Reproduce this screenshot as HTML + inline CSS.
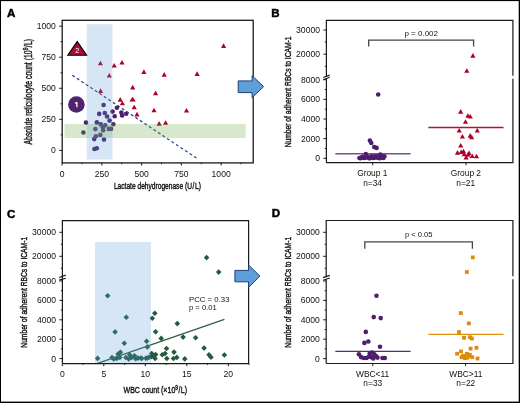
<!DOCTYPE html><html><head><meta charset="utf-8"><style>html,body{margin:0;padding:0;background:#fff}svg{display:block;will-change:transform}</style></head><body>
<svg width="520" height="403" viewBox="0 0 520 403" font-family='"Liberation Sans", sans-serif'>
<rect x="0" y="0" width="520" height="403" fill="#fff"/>
<text x="6.90" y="17.10" font-size="11.6" text-anchor="start" fill="#000" font-weight="bold" stroke="#000" stroke-width="0.45">A</text>
<text x="271.20" y="17.10" font-size="11.6" text-anchor="start" fill="#000" font-weight="bold" stroke="#000" stroke-width="0.45">B</text>
<text x="7.10" y="217.60" font-size="11.6" text-anchor="start" fill="#000" font-weight="bold" stroke="#000" stroke-width="0.45">C</text>
<text x="271.70" y="217.40" font-size="11.6" text-anchor="start" fill="#000" font-weight="bold" stroke="#000" stroke-width="0.45">D</text>
<circle cx="103.60" cy="105.00" r="2.3" fill="#4e1d6e"/>
<circle cx="116.90" cy="107.80" r="2.3" fill="#4e1d6e"/>
<circle cx="99.20" cy="113.90" r="2.3" fill="#4e1d6e"/>
<circle cx="104.80" cy="113.00" r="2.3" fill="#4e1d6e"/>
<circle cx="107.10" cy="116.50" r="2.3" fill="#4e1d6e"/>
<circle cx="112.60" cy="111.60" r="2.3" fill="#4e1d6e"/>
<circle cx="114.70" cy="116.20" r="2.3" fill="#4e1d6e"/>
<circle cx="121.30" cy="112.60" r="2.3" fill="#4e1d6e"/>
<circle cx="122.10" cy="115.50" r="2.3" fill="#4e1d6e"/>
<circle cx="126.20" cy="113.70" r="2.3" fill="#4e1d6e"/>
<circle cx="109.60" cy="120.60" r="2.3" fill="#4e1d6e"/>
<circle cx="113.30" cy="124.20" r="2.3" fill="#4e1d6e"/>
<circle cx="86.00" cy="122.60" r="2.3" fill="#4e1d6e"/>
<circle cx="96.80" cy="122.40" r="2.3" fill="#4e1d6e"/>
<circle cx="100.70" cy="124.40" r="2.3" fill="#4e1d6e"/>
<circle cx="105.20" cy="125.30" r="2.3" fill="#4e1d6e"/>
<circle cx="95.40" cy="129.10" r="2.3" fill="#4e1d6e"/>
<circle cx="102.90" cy="127.50" r="2.3" fill="#4e1d6e"/>
<circle cx="103.20" cy="130.20" r="2.3" fill="#4e1d6e"/>
<circle cx="108.80" cy="128.90" r="2.3" fill="#4e1d6e"/>
<circle cx="111.00" cy="128.90" r="2.3" fill="#4e1d6e"/>
<circle cx="83.40" cy="132.50" r="2.3" fill="#4e1d6e"/>
<circle cx="100.30" cy="134.90" r="2.3" fill="#4e1d6e"/>
<circle cx="95.90" cy="136.30" r="2.3" fill="#4e1d6e"/>
<circle cx="94.20" cy="139.10" r="2.3" fill="#4e1d6e"/>
<circle cx="104.00" cy="139.60" r="2.3" fill="#4e1d6e"/>
<circle cx="94.40" cy="149.00" r="2.3" fill="#4e1d6e"/>
<circle cx="96.80" cy="148.30" r="2.3" fill="#4e1d6e"/>
<polygon points="97.80,65.30 103.00,65.30 100.40,60.70" fill="#ad002b"/>
<polygon points="111.60,67.50 116.80,67.50 114.20,62.90" fill="#ad002b"/>
<polygon points="119.40,64.60 124.60,64.60 122.00,60.00" fill="#ad002b"/>
<polygon points="106.70,77.50 111.90,77.50 109.30,72.90" fill="#ad002b"/>
<polygon points="141.30,73.90 146.50,73.90 143.90,69.30" fill="#ad002b"/>
<polygon points="130.10,89.40 135.30,89.40 132.70,84.80" fill="#ad002b"/>
<polygon points="98.00,92.90 103.20,92.90 100.60,88.30" fill="#ad002b"/>
<polygon points="221.00,47.90 226.20,47.90 223.60,43.30" fill="#ad002b"/>
<polygon points="161.60,76.70 166.80,76.70 164.20,72.10" fill="#ad002b"/>
<polygon points="194.50,75.90 199.70,75.90 197.10,71.30" fill="#ad002b"/>
<polygon points="153.00,95.20 158.20,95.20 155.60,90.60" fill="#ad002b"/>
<polygon points="117.60,101.70 122.80,101.70 120.20,97.10" fill="#ad002b"/>
<polygon points="119.80,105.30 125.00,105.30 122.40,100.70" fill="#ad002b"/>
<polygon points="131.60,109.30 136.80,109.30 134.20,104.70" fill="#ad002b"/>
<polygon points="151.40,112.30 156.60,112.30 154.00,107.70" fill="#ad002b"/>
<polygon points="134.40,116.40 139.60,116.40 137.00,111.80" fill="#ad002b"/>
<polygon points="156.50,125.70 161.70,125.70 159.10,121.10" fill="#ad002b"/>
<polygon points="163.00,124.80 168.20,124.80 165.60,120.20" fill="#ad002b"/>
<polygon points="183.90,112.50 189.10,112.50 186.50,107.90" fill="#ad002b"/>
<polygon points="129.40,101.60 135.80,101.60 132.60,96.80" fill="#ad002b"/>
<line x1="72.3" y1="75.3" x2="196.4" y2="158.0" stroke="#274a8c" stroke-width="1.3" stroke-dasharray="2.9 2.52"/>
<rect x="64.5" y="124" width="181.2" height="14" fill="rgba(112,173,71,0.28)"/>
<rect x="86.8" y="24.2" width="25.7" height="135.3" fill="rgba(91,155,213,0.25)"/>
<polygon points="67.8,55.2 86.6,55.2 77.2,41.6" fill="#a80c35" stroke="#000" stroke-width="1.15" stroke-linejoin="miter"/>
<text x="77.20" y="53.10" font-size="7.2" text-anchor="middle" fill="#fff" >2</text>
<circle cx="76.4" cy="104.5" r="8.3" fill="#51236f"/>
<path d="M76.9,101.9 L76.9,107.2 M76.9,102.2 L75.2,103.6" stroke="#fff" stroke-width="1.25" fill="none"/>
<rect x="62.2" y="20.3" width="191.0" height="142.6" fill="none" stroke="#1a1a1a" stroke-width="1.3"/>
<line x1="59.20" y1="150.40" x2="62.20" y2="150.40" stroke="#1a1a1a" stroke-width="1.0" />
<text x="55.80" y="153.40" font-size="8.6" text-anchor="end" fill="#111" >0</text>
<line x1="60.60" y1="134.87" x2="62.20" y2="134.87" stroke="#1a1a1a" stroke-width="1.0" />
<line x1="59.20" y1="119.34" x2="62.20" y2="119.34" stroke="#1a1a1a" stroke-width="1.0" />
<text x="55.80" y="122.34" font-size="8.6" text-anchor="end" fill="#111" >250</text>
<line x1="60.60" y1="103.81" x2="62.20" y2="103.81" stroke="#1a1a1a" stroke-width="1.0" />
<line x1="59.20" y1="88.28" x2="62.20" y2="88.28" stroke="#1a1a1a" stroke-width="1.0" />
<text x="55.80" y="91.28" font-size="8.6" text-anchor="end" fill="#111" >500</text>
<line x1="60.60" y1="72.75" x2="62.20" y2="72.75" stroke="#1a1a1a" stroke-width="1.0" />
<line x1="59.20" y1="57.22" x2="62.20" y2="57.22" stroke="#1a1a1a" stroke-width="1.0" />
<text x="55.80" y="60.22" font-size="8.6" text-anchor="end" fill="#111" >750</text>
<line x1="60.60" y1="41.69" x2="62.20" y2="41.69" stroke="#1a1a1a" stroke-width="1.0" />
<line x1="59.20" y1="26.16" x2="62.20" y2="26.16" stroke="#1a1a1a" stroke-width="1.0" />
<text x="55.80" y="29.16" font-size="8.6" text-anchor="end" fill="#111" >1000</text>
<line x1="62.10" y1="162.90" x2="62.10" y2="165.50" stroke="#1a1a1a" stroke-width="1.0" />
<text x="62.10" y="176.50" font-size="8.6" text-anchor="middle" fill="#111" >0</text>
<line x1="81.98" y1="162.90" x2="81.98" y2="164.20" stroke="#1a1a1a" stroke-width="1.0" />
<line x1="101.86" y1="162.90" x2="101.86" y2="165.50" stroke="#1a1a1a" stroke-width="1.0" />
<text x="101.86" y="176.50" font-size="8.6" text-anchor="middle" fill="#111" >250</text>
<line x1="121.74" y1="162.90" x2="121.74" y2="164.20" stroke="#1a1a1a" stroke-width="1.0" />
<line x1="141.62" y1="162.90" x2="141.62" y2="165.50" stroke="#1a1a1a" stroke-width="1.0" />
<text x="141.62" y="176.50" font-size="8.6" text-anchor="middle" fill="#111" >500</text>
<line x1="161.51" y1="162.90" x2="161.51" y2="164.20" stroke="#1a1a1a" stroke-width="1.0" />
<line x1="181.39" y1="162.90" x2="181.39" y2="165.50" stroke="#1a1a1a" stroke-width="1.0" />
<text x="181.39" y="176.50" font-size="8.6" text-anchor="middle" fill="#111" >750</text>
<line x1="201.27" y1="162.90" x2="201.27" y2="164.20" stroke="#1a1a1a" stroke-width="1.0" />
<line x1="221.15" y1="162.90" x2="221.15" y2="165.50" stroke="#1a1a1a" stroke-width="1.0" />
<text x="221.15" y="176.50" font-size="8.6" text-anchor="middle" fill="#111" >1000</text>
<line x1="241.03" y1="162.90" x2="241.03" y2="164.20" stroke="#1a1a1a" stroke-width="1.0" />
<text x="157.40" y="188.90" font-size="9.8" text-anchor="middle" fill="#111" textLength="87" lengthAdjust="spacingAndGlyphs" stroke="#111" stroke-width="0.42">Lactate dehydrogenase (U<tspan dx="0.9">/</tspan><tspan dx="0.9">L)</tspan></text>
<text transform="translate(31.8,91.7) rotate(-90)" x="0" y="0" font-size="10.2" stroke="#111" stroke-width="0.42" text-anchor="middle" fill="#222" textLength="105.6" lengthAdjust="spacingAndGlyphs">Absolute reticulocyte count (10<tspan font-size="7.6" dy="-3.4">9</tspan><tspan dy="3.4" dx="0.4">/</tspan><tspan dx="0.4">L)</tspan></text>
<line x1="335.30" y1="153.80" x2="410.60" y2="153.80" stroke="#76528e" stroke-width="1.5" />
<line x1="428.30" y1="127.50" x2="503.50" y2="127.50" stroke="#b3103a" stroke-width="1.3" />
<circle cx="378.20" cy="94.50" r="2.3" fill="#4e1d6e"/>
<circle cx="369.90" cy="140.60" r="2.3" fill="#4e1d6e"/>
<circle cx="371.30" cy="143.00" r="2.3" fill="#4e1d6e"/>
<circle cx="374.20" cy="147.10" r="2.3" fill="#4e1d6e"/>
<circle cx="376.60" cy="147.90" r="2.3" fill="#4e1d6e"/>
<circle cx="365.80" cy="154.00" r="2.3" fill="#4e1d6e"/>
<circle cx="380.40" cy="154.50" r="2.3" fill="#4e1d6e"/>
<circle cx="371.30" cy="156.20" r="2.3" fill="#4e1d6e"/>
<circle cx="384.40" cy="156.30" r="2.3" fill="#4e1d6e"/>
<circle cx="376.00" cy="156.30" r="2.3" fill="#4e1d6e"/>
<circle cx="359.40" cy="158.00" r="2.3" fill="#4e1d6e"/>
<circle cx="361.80" cy="157.60" r="2.3" fill="#4e1d6e"/>
<circle cx="364.20" cy="158.00" r="2.3" fill="#4e1d6e"/>
<circle cx="366.60" cy="157.40" r="2.3" fill="#4e1d6e"/>
<circle cx="369.00" cy="158.10" r="2.3" fill="#4e1d6e"/>
<circle cx="371.40" cy="157.60" r="2.3" fill="#4e1d6e"/>
<circle cx="373.80" cy="158.00" r="2.3" fill="#4e1d6e"/>
<circle cx="376.20" cy="157.40" r="2.3" fill="#4e1d6e"/>
<circle cx="378.60" cy="158.00" r="2.3" fill="#4e1d6e"/>
<circle cx="381.00" cy="157.50" r="2.3" fill="#4e1d6e"/>
<circle cx="383.40" cy="158.00" r="2.3" fill="#4e1d6e"/>
<circle cx="362.50" cy="156.80" r="2.3" fill="#4e1d6e"/>
<circle cx="367.50" cy="156.60" r="2.3" fill="#4e1d6e"/>
<circle cx="374.00" cy="156.60" r="2.3" fill="#4e1d6e"/>
<circle cx="378.50" cy="156.20" r="2.3" fill="#4e1d6e"/>
<circle cx="382.50" cy="156.40" r="2.3" fill="#4e1d6e"/>
<circle cx="360.50" cy="158.20" r="2.3" fill="#4e1d6e"/>
<circle cx="370.00" cy="158.30" r="2.3" fill="#4e1d6e"/>
<circle cx="380.00" cy="158.30" r="2.3" fill="#4e1d6e"/>
<polygon points="470.30,57.70 475.50,57.70 472.90,53.10" fill="#ad002b"/>
<polygon points="464.20,72.80 469.40,72.80 466.80,68.20" fill="#ad002b"/>
<polygon points="458.10,113.70 463.30,113.70 460.70,109.10" fill="#ad002b"/>
<polygon points="465.30,117.80 470.50,117.80 467.90,113.20" fill="#ad002b"/>
<polygon points="467.70,118.50 472.90,118.50 470.30,113.90" fill="#ad002b"/>
<polygon points="462.90,123.80 468.10,123.80 465.50,119.20" fill="#ad002b"/>
<polygon points="456.60,132.50 461.80,132.50 459.20,127.90" fill="#ad002b"/>
<polygon points="474.70,132.50 479.90,132.50 477.30,127.90" fill="#ad002b"/>
<polygon points="459.80,138.50 465.00,138.50 462.40,133.90" fill="#ad002b"/>
<polygon points="467.60,137.70 472.80,137.70 470.20,133.10" fill="#ad002b"/>
<polygon points="469.10,139.30 474.30,139.30 471.70,134.70" fill="#ad002b"/>
<polygon points="458.10,147.60 463.30,147.60 460.70,143.00" fill="#ad002b"/>
<polygon points="454.90,154.70 460.10,154.70 457.50,150.10" fill="#ad002b"/>
<polygon points="458.60,154.00 463.80,154.00 461.20,149.40" fill="#ad002b"/>
<polygon points="460.90,153.30 466.10,153.30 463.50,148.70" fill="#ad002b"/>
<polygon points="461.60,156.30 466.80,156.30 464.20,151.70" fill="#ad002b"/>
<polygon points="463.50,159.50 468.70,159.50 466.10,154.90" fill="#ad002b"/>
<polygon points="466.40,155.00 471.60,155.00 469.00,150.40" fill="#ad002b"/>
<polygon points="465.30,156.80 470.50,156.80 467.90,152.20" fill="#ad002b"/>
<polygon points="469.60,158.10 474.80,158.10 472.20,153.50" fill="#ad002b"/>
<polygon points="473.90,158.30 479.10,158.30 476.50,153.70" fill="#ad002b"/>
<path d="M326.4,162.7 L512.9,162.7 L512.9,78.7 M512.9,75.7 L512.9,20.3 L326.4,20.3 L326.4,76.5 M326.4,78.6 L326.4,162.7" fill="none" stroke="#1a1a1a" stroke-width="1.2"/>
<line x1="323.20" y1="77.50" x2="329.70" y2="75.10" stroke="#1a1a1a" stroke-width="1.15" />
<line x1="323.20" y1="79.70" x2="329.70" y2="77.30" stroke="#1a1a1a" stroke-width="1.15" />
<line x1="323.40" y1="30.00" x2="326.40" y2="30.00" stroke="#1a1a1a" stroke-width="1.0" />
<text x="320.00" y="33.00" font-size="8.6" text-anchor="end" fill="#111" >30000</text>
<line x1="324.80" y1="42.10" x2="326.40" y2="42.10" stroke="#1a1a1a" stroke-width="1.0" />
<line x1="323.40" y1="54.20" x2="326.40" y2="54.20" stroke="#1a1a1a" stroke-width="1.0" />
<text x="320.00" y="57.20" font-size="8.6" text-anchor="end" fill="#111" >20000</text>
<line x1="324.80" y1="66.30" x2="326.40" y2="66.30" stroke="#1a1a1a" stroke-width="1.0" />
<line x1="323.40" y1="158.30" x2="326.40" y2="158.30" stroke="#1a1a1a" stroke-width="1.0" />
<text x="320.00" y="161.30" font-size="8.6" text-anchor="end" fill="#111" >0</text>
<line x1="324.80" y1="148.48" x2="326.40" y2="148.48" stroke="#1a1a1a" stroke-width="1.0" />
<line x1="323.40" y1="138.65" x2="326.40" y2="138.65" stroke="#1a1a1a" stroke-width="1.0" />
<text x="320.00" y="141.65" font-size="8.6" text-anchor="end" fill="#111" >2000</text>
<line x1="324.80" y1="128.83" x2="326.40" y2="128.83" stroke="#1a1a1a" stroke-width="1.0" />
<line x1="323.40" y1="119.00" x2="326.40" y2="119.00" stroke="#1a1a1a" stroke-width="1.0" />
<text x="320.00" y="122.00" font-size="8.6" text-anchor="end" fill="#111" >4000</text>
<line x1="324.80" y1="109.18" x2="326.40" y2="109.18" stroke="#1a1a1a" stroke-width="1.0" />
<line x1="323.40" y1="99.35" x2="326.40" y2="99.35" stroke="#1a1a1a" stroke-width="1.0" />
<text x="320.00" y="102.35" font-size="8.6" text-anchor="end" fill="#111" >6000</text>
<line x1="324.80" y1="89.53" x2="326.40" y2="89.53" stroke="#1a1a1a" stroke-width="1.0" />
<line x1="323.40" y1="79.70" x2="326.40" y2="79.70" stroke="#1a1a1a" stroke-width="1.0" />
<text x="320.00" y="82.70" font-size="8.6" text-anchor="end" fill="#111" >8000</text>
<line x1="372.70" y1="162.70" x2="372.70" y2="165.30" stroke="#1a1a1a" stroke-width="1.0" />
<line x1="466.00" y1="162.70" x2="466.00" y2="165.30" stroke="#1a1a1a" stroke-width="1.0" />
<text x="372.30" y="176.10" font-size="8.4" text-anchor="middle" fill="#111" >Group 1</text>
<text x="372.60" y="185.60" font-size="8.4" text-anchor="middle" fill="#111" >n=34</text>
<text x="465.90" y="176.10" font-size="8.4" text-anchor="middle" fill="#111" >Group 2</text>
<text x="465.70" y="185.60" font-size="8.4" text-anchor="middle" fill="#111" >n=21</text>
<path d="M368.7,46.6 L368.7,40.1 L473.6,40.1 L473.6,46.6" fill="none" stroke="#444" stroke-width="1.3"/>
<text x="421.20" y="35.50" font-size="8" text-anchor="middle" fill="#111" >p = 0.002</text>
<text transform="translate(290.8,91.9) rotate(-90)" x="0" y="0" font-size="9.9" stroke="#111" stroke-width="0.42" text-anchor="middle" fill="#222" textLength="110.8" lengthAdjust="spacingAndGlyphs">Number of adherent RBCs to ICAM-1</text>
<polygon points="206.60,254.80 209.40,257.60 206.60,260.40 203.80,257.60" fill="#245a40"/>
<polygon points="218.70,269.30 221.50,272.10 218.70,274.90 215.90,272.10" fill="#245a40"/>
<polygon points="107.70,293.00 110.50,295.80 107.70,298.60 104.90,295.80" fill="#245a40"/>
<polygon points="154.80,310.50 157.60,313.30 154.80,316.10 152.00,313.30" fill="#245a40"/>
<polygon points="152.30,315.40 155.10,318.20 152.30,321.00 149.50,318.20" fill="#245a40"/>
<polygon points="177.30,320.80 180.10,323.60 177.30,326.40 174.50,323.60" fill="#245a40"/>
<polygon points="126.30,314.40 129.10,317.20 126.30,320.00 123.50,317.20" fill="#245a40"/>
<polygon points="115.10,329.10 117.90,331.90 115.10,334.70 112.30,331.90" fill="#245a40"/>
<polygon points="155.60,328.90 158.40,331.70 155.60,334.50 152.80,331.70" fill="#245a40"/>
<polygon points="161.20,335.60 164.00,338.40 161.20,341.20 158.40,338.40" fill="#245a40"/>
<polygon points="183.10,334.30 185.90,337.10 183.10,339.90 180.30,337.10" fill="#245a40"/>
<polygon points="195.60,335.00 198.40,337.80 195.60,340.60 192.80,337.80" fill="#245a40"/>
<polygon points="124.30,340.40 127.10,343.20 124.30,346.00 121.50,343.20" fill="#245a40"/>
<polygon points="146.60,338.40 149.40,341.20 146.60,344.00 143.80,341.20" fill="#245a40"/>
<polygon points="147.40,344.10 150.20,346.90 147.40,349.70 144.60,346.90" fill="#245a40"/>
<polygon points="166.50,345.70 169.30,348.50 166.50,351.30 163.70,348.50" fill="#245a40"/>
<polygon points="174.00,349.30 176.80,352.10 174.00,354.90 171.20,352.10" fill="#245a40"/>
<polygon points="97.60,355.60 100.40,358.40 97.60,361.20 94.80,358.40" fill="#245a40"/>
<polygon points="112.00,354.70 114.80,357.50 112.00,360.30 109.20,357.50" fill="#245a40"/>
<polygon points="113.80,356.20 116.60,359.00 113.80,361.80 111.00,359.00" fill="#245a40"/>
<polygon points="116.70,355.60 119.50,358.40 116.70,361.20 113.90,358.40" fill="#245a40"/>
<polygon points="118.10,351.30 120.90,354.10 118.10,356.90 115.30,354.10" fill="#245a40"/>
<polygon points="120.40,349.50 123.20,352.30 120.40,355.10 117.60,352.30" fill="#245a40"/>
<polygon points="119.80,354.70 122.60,357.50 119.80,360.30 117.00,357.50" fill="#245a40"/>
<polygon points="125.90,354.70 128.70,357.50 125.90,360.30 123.10,357.50" fill="#245a40"/>
<polygon points="128.80,356.20 131.60,359.00 128.80,361.80 126.00,359.00" fill="#245a40"/>
<polygon points="129.60,351.90 132.40,354.70 129.60,357.50 126.80,354.70" fill="#245a40"/>
<polygon points="131.70,354.70 134.50,357.50 131.70,360.30 128.90,357.50" fill="#245a40"/>
<polygon points="134.50,353.00 137.30,355.80 134.50,358.60 131.70,355.80" fill="#245a40"/>
<polygon points="135.70,355.90 138.50,358.70 135.70,361.50 132.90,358.70" fill="#245a40"/>
<polygon points="138.10,355.30 140.90,358.10 138.10,360.90 135.30,358.10" fill="#245a40"/>
<polygon points="141.10,355.20 143.90,358.00 141.10,360.80 138.30,358.00" fill="#245a40"/>
<polygon points="145.90,355.40 148.70,358.20 145.90,361.00 143.10,358.20" fill="#245a40"/>
<polygon points="149.10,354.50 151.90,357.30 149.10,360.10 146.30,357.30" fill="#245a40"/>
<polygon points="151.70,350.70 154.50,353.50 151.70,356.30 148.90,353.50" fill="#245a40"/>
<polygon points="155.60,351.80 158.40,354.60 155.60,357.40 152.80,354.60" fill="#245a40"/>
<polygon points="153.40,353.50 156.20,356.30 153.40,359.10 150.60,356.30" fill="#245a40"/>
<polygon points="155.10,355.70 157.90,358.50 155.10,361.30 152.30,358.50" fill="#245a40"/>
<polygon points="162.30,352.00 165.10,354.80 162.30,357.60 159.50,354.80" fill="#245a40"/>
<polygon points="165.10,350.70 167.90,353.50 165.10,356.30 162.30,353.50" fill="#245a40"/>
<polygon points="166.80,355.70 169.60,358.50 166.80,361.30 164.00,358.50" fill="#245a40"/>
<polygon points="173.50,355.70 176.30,358.50 173.50,361.30 170.70,358.50" fill="#245a40"/>
<polygon points="176.80,354.60 179.60,357.40 176.80,360.20 174.00,357.40" fill="#245a40"/>
<polygon points="184.80,356.10 187.60,358.90 184.80,361.70 182.00,358.90" fill="#245a40"/>
<polygon points="204.10,345.30 206.90,348.10 204.10,350.90 201.30,348.10" fill="#245a40"/>
<polygon points="209.00,352.00 211.80,354.80 209.00,357.60 206.20,354.80" fill="#245a40"/>
<polygon points="211.00,354.40 213.80,357.20 211.00,360.00 208.20,357.20" fill="#245a40"/>
<polygon points="224.40,352.20 227.20,355.00 224.40,357.80 221.60,355.00" fill="#245a40"/>
<polygon points="141.70,355.70 144.50,358.50 141.70,361.30 138.90,358.50" fill="#245a40"/>
<polygon points="147.30,355.20 150.10,358.00 147.30,360.80 144.50,358.00" fill="#245a40"/>
<polygon points="151.20,354.00 154.00,356.80 151.20,359.60 148.40,356.80" fill="#245a40"/>
<line x1="97.50" y1="363.30" x2="224.40" y2="319.40" stroke="#2a6446" stroke-width="1.3" />
<rect x="95" y="241.9" width="56" height="121.2" fill="rgba(91,155,213,0.25)"/>
<path d="M62.4,363.6 L248.6,363.6 L248.6,220.6 L62.4,220.6 L62.4,363.6" fill="none" stroke="#1a1a1a" stroke-width="1.2"/>
<line x1="59.10" y1="277.50" x2="65.80" y2="275.10" stroke="#1a1a1a" stroke-width="1.15" />
<line x1="59.10" y1="280.10" x2="65.80" y2="278.20" stroke="#1a1a1a" stroke-width="1.15" />
<line x1="59.40" y1="232.30" x2="62.40" y2="232.30" stroke="#1a1a1a" stroke-width="1.0" />
<text x="56.00" y="235.30" font-size="8.6" text-anchor="end" fill="#111" >30000</text>
<line x1="60.80" y1="244.30" x2="62.40" y2="244.30" stroke="#1a1a1a" stroke-width="1.0" />
<line x1="59.40" y1="256.30" x2="62.40" y2="256.30" stroke="#1a1a1a" stroke-width="1.0" />
<text x="56.00" y="259.30" font-size="8.6" text-anchor="end" fill="#111" >20000</text>
<line x1="60.80" y1="268.30" x2="62.40" y2="268.30" stroke="#1a1a1a" stroke-width="1.0" />
<line x1="59.40" y1="358.60" x2="62.40" y2="358.60" stroke="#1a1a1a" stroke-width="1.0" />
<text x="56.00" y="361.60" font-size="8.6" text-anchor="end" fill="#111" >0</text>
<line x1="60.80" y1="348.90" x2="62.40" y2="348.90" stroke="#1a1a1a" stroke-width="1.0" />
<line x1="59.40" y1="339.20" x2="62.40" y2="339.20" stroke="#1a1a1a" stroke-width="1.0" />
<text x="56.00" y="342.20" font-size="8.6" text-anchor="end" fill="#111" >2000</text>
<line x1="60.80" y1="329.50" x2="62.40" y2="329.50" stroke="#1a1a1a" stroke-width="1.0" />
<line x1="59.40" y1="319.80" x2="62.40" y2="319.80" stroke="#1a1a1a" stroke-width="1.0" />
<text x="56.00" y="322.80" font-size="8.6" text-anchor="end" fill="#111" >4000</text>
<line x1="60.80" y1="310.10" x2="62.40" y2="310.10" stroke="#1a1a1a" stroke-width="1.0" />
<line x1="59.40" y1="300.40" x2="62.40" y2="300.40" stroke="#1a1a1a" stroke-width="1.0" />
<text x="56.00" y="303.40" font-size="8.6" text-anchor="end" fill="#111" >6000</text>
<line x1="60.80" y1="290.70" x2="62.40" y2="290.70" stroke="#1a1a1a" stroke-width="1.0" />
<line x1="59.40" y1="281.00" x2="62.40" y2="281.00" stroke="#1a1a1a" stroke-width="1.0" />
<text x="56.00" y="284.00" font-size="8.6" text-anchor="end" fill="#111" >8000</text>
<line x1="62.30" y1="363.60" x2="62.30" y2="366.20" stroke="#1a1a1a" stroke-width="1.0" />
<text x="62.30" y="377.00" font-size="8.6" text-anchor="middle" fill="#111" >0</text>
<line x1="83.05" y1="363.60" x2="83.05" y2="364.90" stroke="#1a1a1a" stroke-width="1.0" />
<line x1="103.80" y1="363.60" x2="103.80" y2="366.20" stroke="#1a1a1a" stroke-width="1.0" />
<text x="103.80" y="377.00" font-size="8.6" text-anchor="middle" fill="#111" >5</text>
<line x1="124.55" y1="363.60" x2="124.55" y2="364.90" stroke="#1a1a1a" stroke-width="1.0" />
<line x1="145.30" y1="363.60" x2="145.30" y2="366.20" stroke="#1a1a1a" stroke-width="1.0" />
<text x="145.30" y="377.00" font-size="8.6" text-anchor="middle" fill="#111" >10</text>
<line x1="166.05" y1="363.60" x2="166.05" y2="364.90" stroke="#1a1a1a" stroke-width="1.0" />
<line x1="186.80" y1="363.60" x2="186.80" y2="366.20" stroke="#1a1a1a" stroke-width="1.0" />
<text x="186.80" y="377.00" font-size="8.6" text-anchor="middle" fill="#111" >15</text>
<line x1="207.55" y1="363.60" x2="207.55" y2="364.90" stroke="#1a1a1a" stroke-width="1.0" />
<line x1="228.30" y1="363.60" x2="228.30" y2="366.20" stroke="#1a1a1a" stroke-width="1.0" />
<text x="228.30" y="377.00" font-size="8.6" text-anchor="middle" fill="#111" >20</text>
<line x1="249.05" y1="363.60" x2="249.05" y2="364.90" stroke="#1a1a1a" stroke-width="1.0" />
<text x="189.00" y="301.50" font-size="7.8" text-anchor="start" fill="#111" textLength="40.5" lengthAdjust="spacingAndGlyphs" >PCC = 0.33</text>
<text x="189.00" y="310.30" font-size="7.8" text-anchor="start" fill="#111" textLength="27.8" lengthAdjust="spacingAndGlyphs" >p = 0.01</text>
<text x="155.3" y="393.4" font-size="9.7" stroke="#111" stroke-width="0.42" text-anchor="middle" fill="#222" textLength="63.5" lengthAdjust="spacingAndGlyphs">WBC count (×10<tspan font-size="6.8" dy="-3.3">9</tspan><tspan dy="3.3" dx="0.5">/</tspan><tspan dx="0.6">L)</tspan></text>
<text transform="translate(26.9,292.3) rotate(-90)" x="0" y="0" font-size="9.9" stroke="#111" stroke-width="0.42" text-anchor="middle" fill="#222" textLength="110.8" lengthAdjust="spacingAndGlyphs">Number of adherent RBCs to ICAM-1</text>
<line x1="335.30" y1="351.40" x2="410.60" y2="351.40" stroke="#5a2a7e" stroke-width="1.3" />
<line x1="428.30" y1="334.30" x2="503.50" y2="334.30" stroke="#e0900e" stroke-width="1.3" />
<circle cx="376.50" cy="295.80" r="2.3" fill="#4e1d6e"/>
<circle cx="373.70" cy="317.10" r="2.3" fill="#4e1d6e"/>
<circle cx="380.70" cy="318.10" r="2.3" fill="#4e1d6e"/>
<circle cx="365.80" cy="331.90" r="2.3" fill="#4e1d6e"/>
<circle cx="364.40" cy="342.90" r="2.3" fill="#4e1d6e"/>
<circle cx="368.30" cy="341.50" r="2.3" fill="#4e1d6e"/>
<circle cx="380.00" cy="346.80" r="2.3" fill="#4e1d6e"/>
<circle cx="358.90" cy="354.20" r="2.3" fill="#4e1d6e"/>
<circle cx="361.00" cy="357.10" r="2.3" fill="#4e1d6e"/>
<circle cx="363.70" cy="358.00" r="2.3" fill="#4e1d6e"/>
<circle cx="366.50" cy="358.00" r="2.3" fill="#4e1d6e"/>
<circle cx="369.70" cy="353.40" r="2.3" fill="#4e1d6e"/>
<circle cx="372.00" cy="352.50" r="2.3" fill="#4e1d6e"/>
<circle cx="374.30" cy="354.40" r="2.3" fill="#4e1d6e"/>
<circle cx="371.00" cy="357.10" r="2.3" fill="#4e1d6e"/>
<circle cx="373.30" cy="358.50" r="2.3" fill="#4e1d6e"/>
<circle cx="377.50" cy="357.60" r="2.3" fill="#4e1d6e"/>
<circle cx="382.50" cy="358.00" r="2.3" fill="#4e1d6e"/>
<circle cx="384.80" cy="358.00" r="2.3" fill="#4e1d6e"/>
<circle cx="368.80" cy="356.70" r="2.3" fill="#4e1d6e"/>
<circle cx="376.00" cy="356.00" r="2.3" fill="#4e1d6e"/>
<rect x="470.90" y="255.50" width="3.8" height="3.8" fill="#dd8b0c"/>
<rect x="464.90" y="270.10" width="3.8" height="3.8" fill="#dd8b0c"/>
<rect x="458.90" y="311.20" width="3.8" height="3.8" fill="#dd8b0c"/>
<rect x="466.90" y="321.50" width="3.8" height="3.8" fill="#dd8b0c"/>
<rect x="457.10" y="330.10" width="3.8" height="3.8" fill="#dd8b0c"/>
<rect x="462.10" y="335.90" width="3.8" height="3.8" fill="#dd8b0c"/>
<rect x="468.10" y="335.30" width="3.8" height="3.8" fill="#dd8b0c"/>
<rect x="470.00" y="336.60" width="3.8" height="3.8" fill="#dd8b0c"/>
<rect x="468.70" y="346.70" width="3.8" height="3.8" fill="#dd8b0c"/>
<rect x="474.60" y="345.90" width="3.8" height="3.8" fill="#dd8b0c"/>
<rect x="455.20" y="351.80" width="3.8" height="3.8" fill="#dd8b0c"/>
<rect x="459.10" y="349.50" width="3.8" height="3.8" fill="#dd8b0c"/>
<rect x="459.70" y="355.30" width="3.8" height="3.8" fill="#dd8b0c"/>
<rect x="462.10" y="353.90" width="3.8" height="3.8" fill="#dd8b0c"/>
<rect x="465.00" y="351.90" width="3.8" height="3.8" fill="#dd8b0c"/>
<rect x="465.50" y="355.80" width="3.8" height="3.8" fill="#dd8b0c"/>
<rect x="467.90" y="352.90" width="3.8" height="3.8" fill="#dd8b0c"/>
<rect x="470.30" y="355.30" width="3.8" height="3.8" fill="#dd8b0c"/>
<rect x="475.60" y="356.60" width="3.8" height="3.8" fill="#dd8b0c"/>
<rect x="463.10" y="356.30" width="3.8" height="3.8" fill="#dd8b0c"/>
<rect x="461.10" y="354.10" width="3.8" height="3.8" fill="#dd8b0c"/>
<rect x="466.60" y="354.10" width="3.8" height="3.8" fill="#dd8b0c"/>
<path d="M326.2,363.5 L512.9,363.5 L512.9,279.3 M512.9,276.3 L512.9,220.5 L326.2,220.5 L326.2,277.2 M326.2,279.4 L326.2,363.5" fill="none" stroke="#1a1a1a" stroke-width="1.2"/>
<line x1="323.10" y1="277.60" x2="329.80" y2="275.40" stroke="#1a1a1a" stroke-width="1.15" />
<line x1="323.10" y1="280.30" x2="329.80" y2="278.00" stroke="#1a1a1a" stroke-width="1.15" />
<line x1="323.20" y1="232.30" x2="326.20" y2="232.30" stroke="#1a1a1a" stroke-width="1.0" />
<text x="319.80" y="235.30" font-size="8.6" text-anchor="end" fill="#111" >30000</text>
<line x1="324.60" y1="244.30" x2="326.20" y2="244.30" stroke="#1a1a1a" stroke-width="1.0" />
<line x1="323.20" y1="256.30" x2="326.20" y2="256.30" stroke="#1a1a1a" stroke-width="1.0" />
<text x="319.80" y="259.30" font-size="8.6" text-anchor="end" fill="#111" >20000</text>
<line x1="324.60" y1="268.30" x2="326.20" y2="268.30" stroke="#1a1a1a" stroke-width="1.0" />
<line x1="323.20" y1="358.60" x2="326.20" y2="358.60" stroke="#1a1a1a" stroke-width="1.0" />
<text x="319.80" y="361.60" font-size="8.6" text-anchor="end" fill="#111" >0</text>
<line x1="324.60" y1="348.90" x2="326.20" y2="348.90" stroke="#1a1a1a" stroke-width="1.0" />
<line x1="323.20" y1="339.20" x2="326.20" y2="339.20" stroke="#1a1a1a" stroke-width="1.0" />
<text x="319.80" y="342.20" font-size="8.6" text-anchor="end" fill="#111" >2000</text>
<line x1="324.60" y1="329.50" x2="326.20" y2="329.50" stroke="#1a1a1a" stroke-width="1.0" />
<line x1="323.20" y1="319.80" x2="326.20" y2="319.80" stroke="#1a1a1a" stroke-width="1.0" />
<text x="319.80" y="322.80" font-size="8.6" text-anchor="end" fill="#111" >4000</text>
<line x1="324.60" y1="310.10" x2="326.20" y2="310.10" stroke="#1a1a1a" stroke-width="1.0" />
<line x1="323.20" y1="300.40" x2="326.20" y2="300.40" stroke="#1a1a1a" stroke-width="1.0" />
<text x="319.80" y="303.40" font-size="8.6" text-anchor="end" fill="#111" >6000</text>
<line x1="324.60" y1="290.70" x2="326.20" y2="290.70" stroke="#1a1a1a" stroke-width="1.0" />
<line x1="323.20" y1="281.00" x2="326.20" y2="281.00" stroke="#1a1a1a" stroke-width="1.0" />
<text x="319.80" y="284.00" font-size="8.6" text-anchor="end" fill="#111" >8000</text>
<line x1="372.80" y1="363.50" x2="372.80" y2="366.10" stroke="#1a1a1a" stroke-width="1.0" />
<line x1="465.60" y1="363.50" x2="465.60" y2="366.10" stroke="#1a1a1a" stroke-width="1.0" />
<text x="372.60" y="376.80" font-size="8.4" text-anchor="middle" fill="#111" >WBC&lt;11</text>
<text x="372.80" y="386.40" font-size="8.4" text-anchor="middle" fill="#111" >n=33</text>
<text x="465.80" y="376.80" font-size="8.4" text-anchor="middle" fill="#111" >WBC&gt;11</text>
<text x="465.80" y="386.40" font-size="8.4" text-anchor="middle" fill="#111" >n=22</text>
<path d="M364.8,248.7 L364.8,241.9 L472.4,241.9 L472.4,248.7" fill="none" stroke="#444" stroke-width="1.3"/>
<text x="418.70" y="237.00" font-size="8" text-anchor="middle" fill="#111" textLength="27.6" lengthAdjust="spacingAndGlyphs" >p &lt; 0.05</text>
<text transform="translate(290.8,292.3) rotate(-90)" x="0" y="0" font-size="9.9" stroke="#111" stroke-width="0.42" text-anchor="middle" fill="#222" textLength="110.8" lengthAdjust="spacingAndGlyphs">Number of adherent RBCs to ICAM-1</text>
<polygon points="238.2,80.9 252.1,80.9 252.1,75.7 263.6,86.6 252.1,97.7 252.1,92.6 238.2,92.6" fill="#5e9fda" stroke="#1f3f70" stroke-width="1.0" stroke-linejoin="miter"/>
<polygon points="234.9,270.4 248.5,270.4 248.5,264.9 259.9,276.1 248.5,287.5 248.5,281.8 234.9,281.8" fill="#5e9fda" stroke="#1f3f70" stroke-width="1.0" stroke-linejoin="miter"/>
<rect x="0" y="0" width="520" height="1.1" fill="#000"/><rect x="0" y="0" width="1.0" height="403" fill="#000"/><rect x="518.7" y="0" width="1.3" height="403" fill="#000"/><rect x="0" y="401.6" width="520" height="1.4" fill="#000"/>
</svg></body></html>
